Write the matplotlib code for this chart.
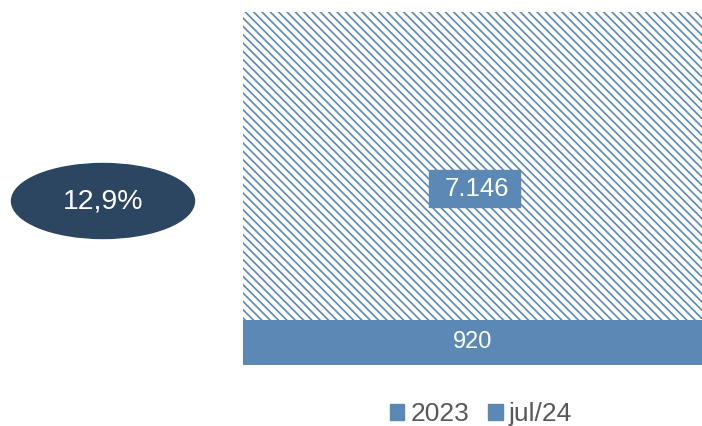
import matplotlib
matplotlib.use("Agg")
import matplotlib.pyplot as plt
from matplotlib.patches import Ellipse, Patch, Rectangle

plt.rcParams['font.family'] = ['Liberation Sans', 'DejaVu Sans']
plt.rcParams['hatch.linewidth'] = 1.2

# data
series = ['2023', 'jul/24']
total_2023 = 7146
value_jul24 = 920
share_label = '12,9%'

blue = '#5B88B5'
dark = '#2C4560'
gray = '#595959'

fig = plt.figure(figsize=(7.02, 4.26), dpi=100)
ax = fig.add_axes([243 / 702, 1 - 365 / 426, 459 / 702, 353 / 426])

# hatched total bar behind, solid bar in front
ax.bar([0], [total_2023], width=1.0, color='white', edgecolor=blue,
       hatch='\\\\\\\\', linewidth=0)
ax.bar([0], [value_jul24], width=1.0, color=blue, linewidth=0)

ax.set_xlim(-0.5, 0.5)
ax.set_ylim(0, total_2023)
ax.axis('off')

# label box for the total
ax.add_patch(Rectangle((0.505 - 0.099, 0.5 - 0.052), 0.198, 0.104,
                       transform=ax.transAxes, color=blue, zorder=3))
ax.text(0.51, 0.5, f'{total_2023:,}'.replace(',', '.'), transform=ax.transAxes,
        ha='center', va='center', color='white', fontsize=18.5, zorder=4)
ax.text(0, value_jul24 / 2, str(value_jul24), ha='center', va='center',
        color='white', fontsize=17)

# percentage bubble
ell = Ellipse((103 / 702, 1 - 201 / 426), 183 / 702, 75 / 426,
              transform=fig.transFigure, color=dark)
fig.add_artist(ell)
fig.text(103 / 702, 1 - 202 / 426, share_label, ha='center', va='center',
         color='white', fontsize=20.5)

handles = [Patch(color=blue, label=s) for s in series]
fig.legend(handles=handles, loc='center', bbox_to_anchor=(481 / 702, 1 - 414 / 426),
           ncol=2, frameon=False, fontsize=19, labelcolor=gray,
           handlelength=0.55, handleheight=0.55, handletextpad=0.25, columnspacing=0.7)

fig.savefig('out.png', dpi=100)
